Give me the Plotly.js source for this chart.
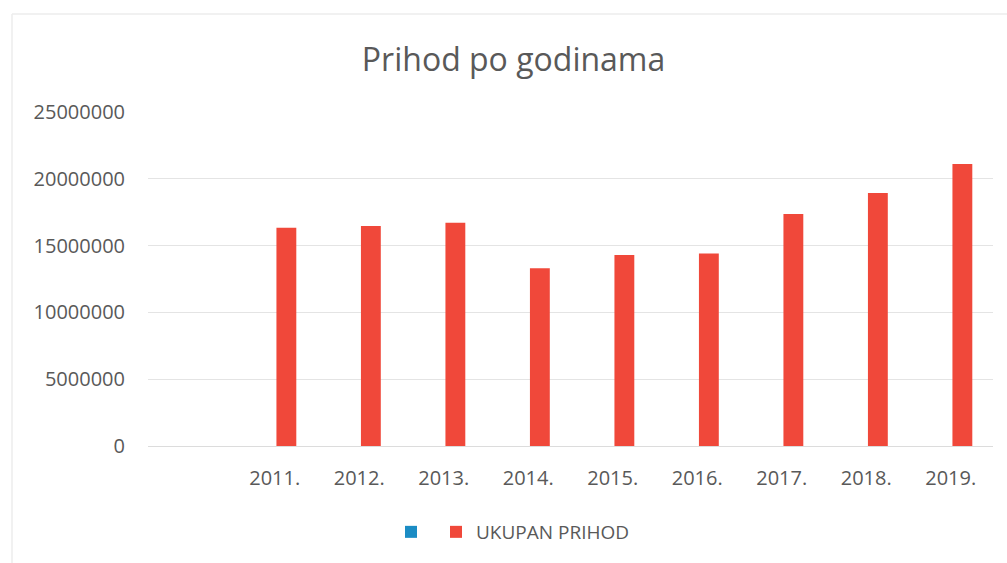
<!DOCTYPE html>
<html>
<head>
<meta charset="utf-8">
<script src="https://cdn.plot.ly/plotly-3.0.1.min.js"></script>
<style>html,body{margin:0;padding:0;background:#fff;}#chart{width:1007px;height:563px;}</style>
</head>
<body>
<div id="chart"></div>
<script>
var years = ["2011.", "2012.", "2013.", "2014.", "2015.", "2016.", "2017.", "2018.", "2019."];
var blankSeries = [0, 0, 0, 0, 0, 0, 0, 0, 0];
var ukupanPrihod = [16340000, 16470000, 16710000, 13300000, 14300000, 14400000, 17370000, 18940000, 21100000];
var yTicks = [0, 5000000, 10000000, 15000000, 20000000, 25000000];
var yTickText = ["0", "5000000", "10000000", "15000000", "20000000", "25000000"];

var W = 1007, H = 563, L = 148, R = 14, T = 112, B = 117;
var pw = W - L - R, ph = H - T - B;
function px(x){ return (x - L) / pw; }
function py(y){ return (H - B - y) / ph; }

var traces = [
  {type: "bar", name: "", x: years, y: blankSeries, marker: {color: "#1B8CC4", line: {width: 0}},
   width: 0.235, offset: -0.255, hoverinfo: "skip"},
  {type: "bar", name: "UKUPAN PRIHOD", x: years, y: ukupanPrihod, marker: {color: "#F0483A", line: {width: 0}},
   width: 0.235, offset: 0.02}
];

var layout = {
  width: W, height: H,
  margin: {l: L, r: R, t: T, b: B, pad: 0},
  paper_bgcolor: "#ffffff", plot_bgcolor: "#ffffff",
  font: {family: "Open Sans, sans-serif", color: "#595959", size: 20},
  title: {text: "Prihod po godinama", font: {size: 32, color: "#595959"}, x: 0.51, xanchor: "center", y: 1 - 60 / H, yanchor: "middle"},
  barmode: "overlay",
  showlegend: true,
  legend: {orientation: "h", x: px(391), xanchor: "left", y: py(532), yanchor: "middle", font: {size: 19, color: "#595959"},
           itemwidth: 30, traceorder: "normal"},
  xaxis: {type: "category", categoryorder: "array", categoryarray: years, range: [-1.5, 8.5],
          showgrid: false, zeroline: false, showline: false, ticks: "", ticklabelstandoff: 18,
          tickfont: {size: 20, color: "#595959"}, fixedrange: true},
  yaxis: {range: [0, 25000000], tickvals: yTicks, ticktext: yTickText, showgrid: true, gridcolor: "#e4e4e4", gridwidth: 1,
          zeroline: true, zerolinecolor: "#dcdcdc", zerolinewidth: 1, showline: false, ticks: "", ticklabelstandoff: 22,
          tickfont: {size: 20, color: "#595959"}, fixedrange: true},
  shapes: [
    {type: "line", xref: "paper", yref: "paper", x0: px(12), x1: px(12), y0: py(14), y1: py(563), line: {color: "#ececec", width: 1.5}},
    {type: "line", xref: "paper", yref: "paper", x0: px(12), x1: px(1007), y0: py(14), y1: py(14), line: {color: "#ececec", width: 1.5}}
  ]
};

Plotly.newPlot("chart", traces, layout, {displayModeBar: false, staticPlot: true});
</script>
</body>
</html>
